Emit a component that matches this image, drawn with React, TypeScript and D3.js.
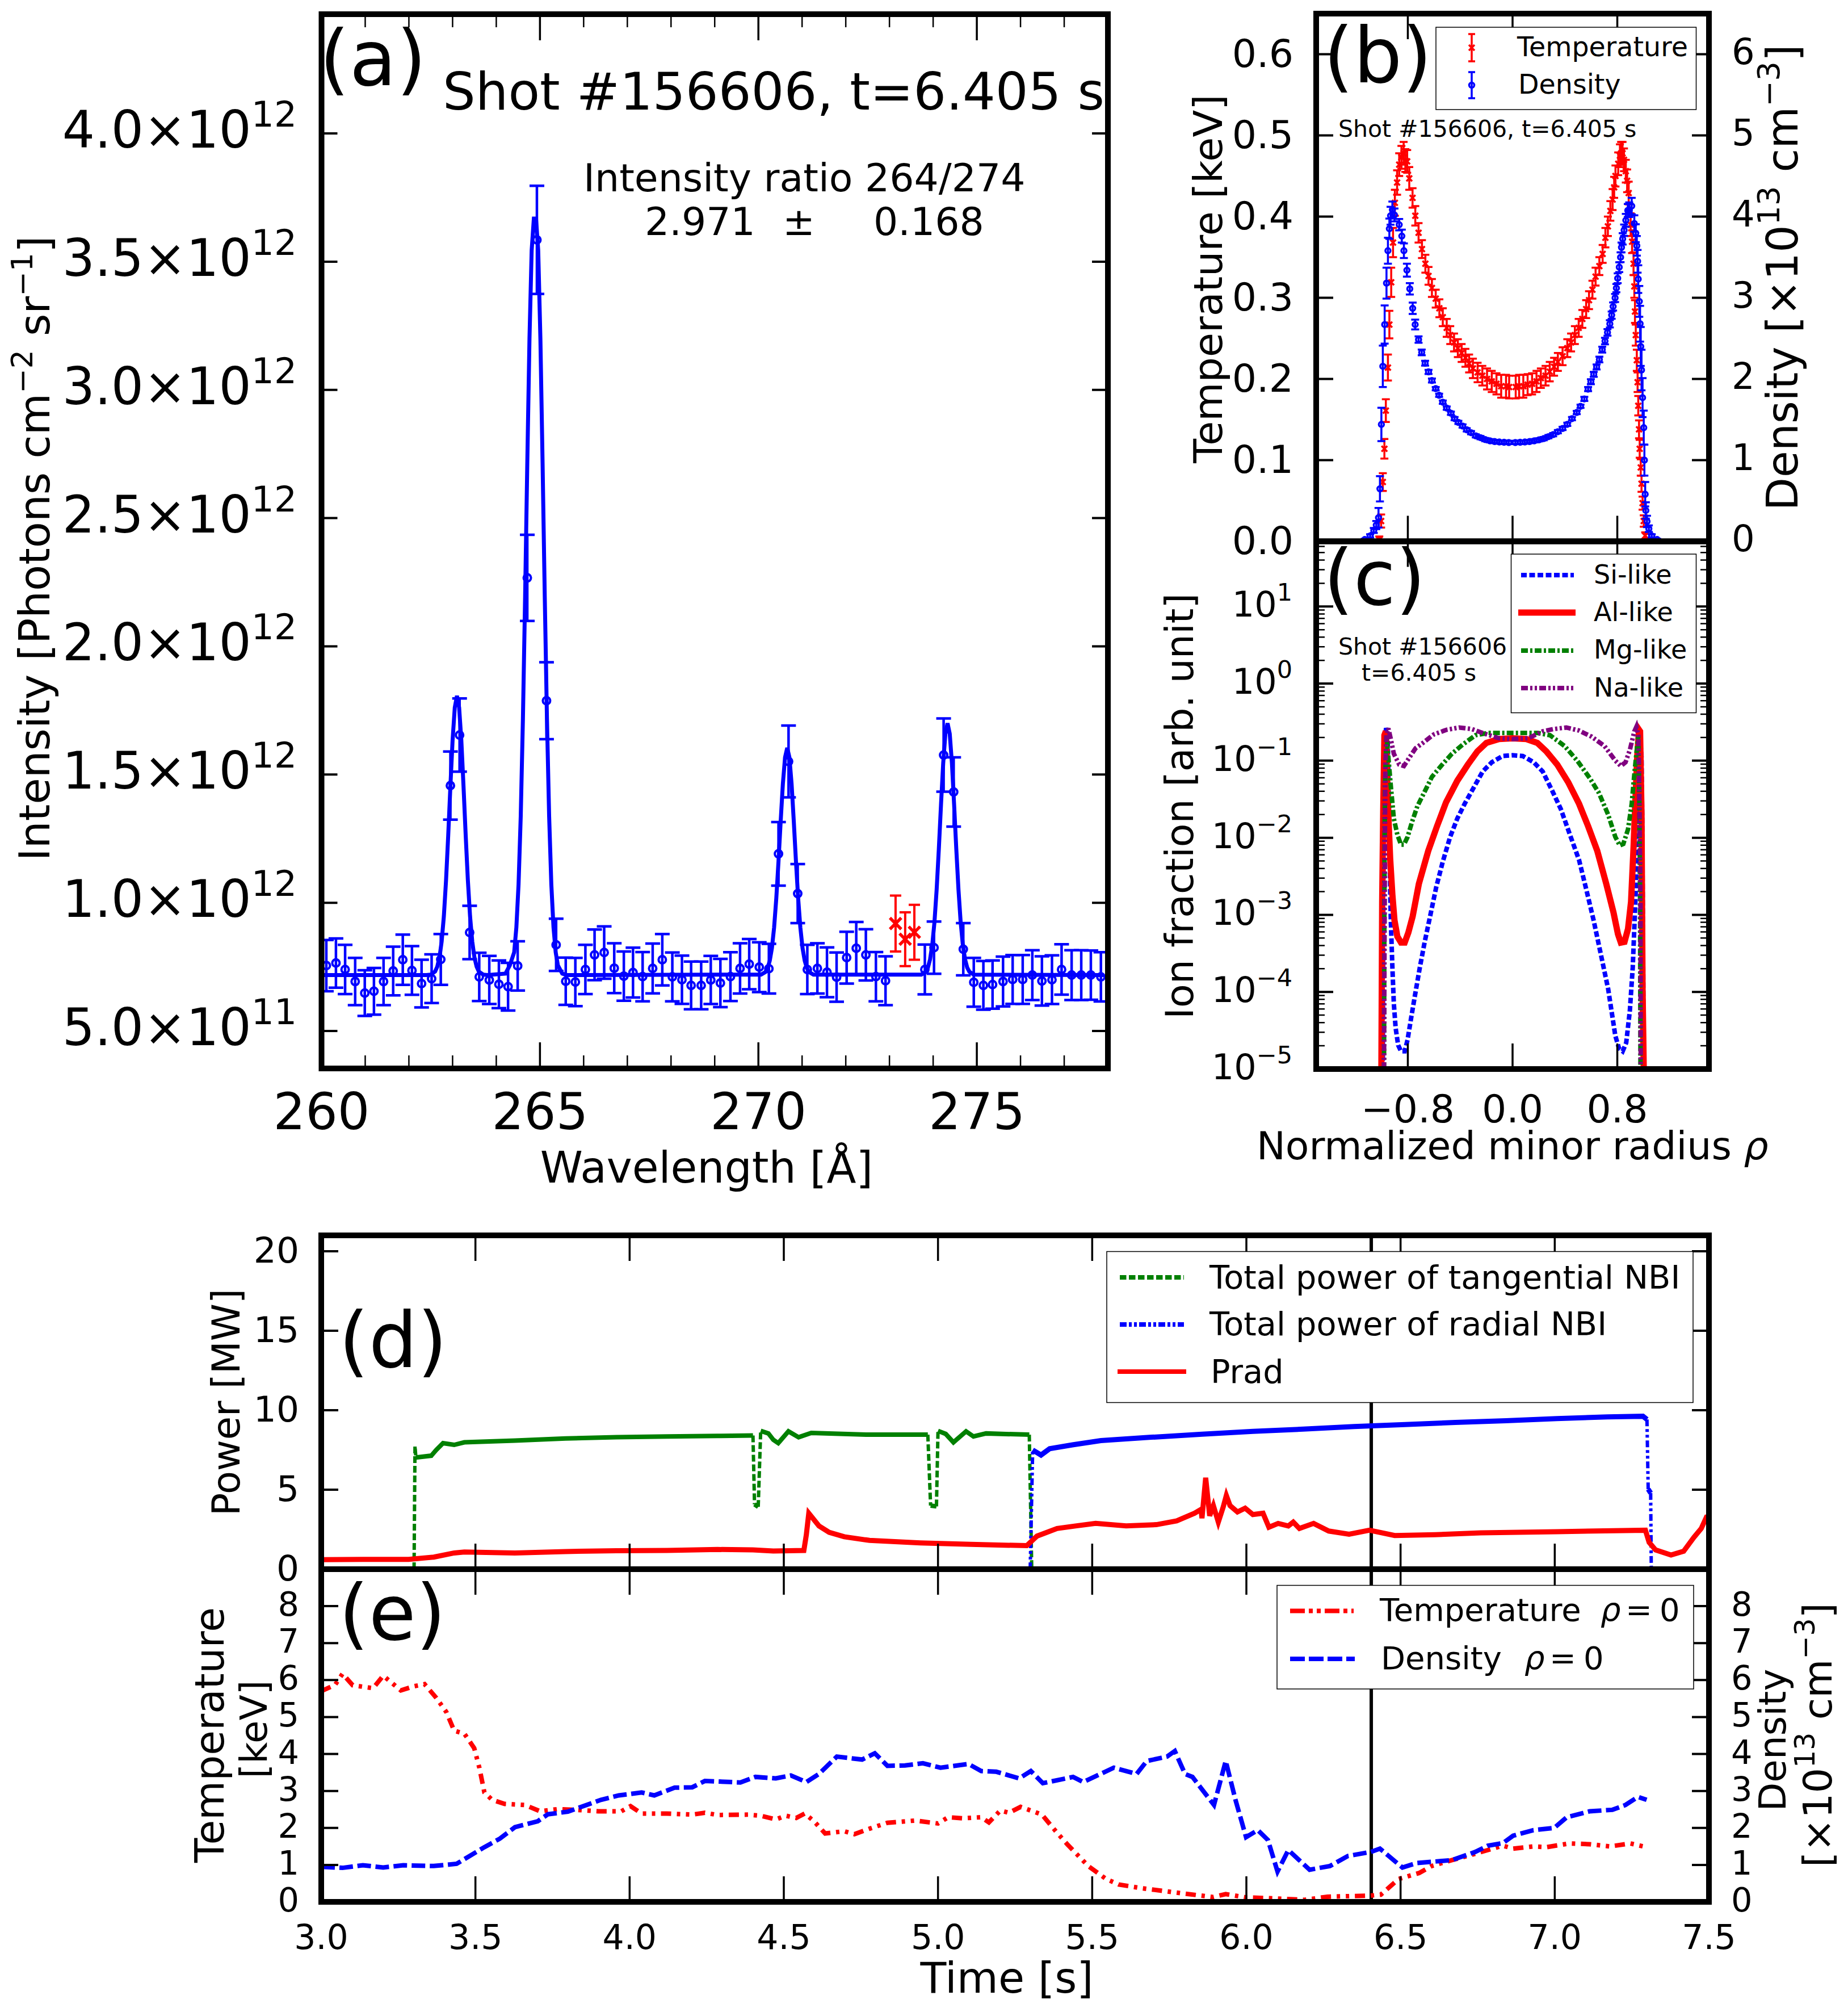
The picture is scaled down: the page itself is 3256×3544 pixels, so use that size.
import * as d3 from "d3";

type Row = number[];

const font = "DejaVu Sans";

// (a) spectrum: wavelength, intensity (1e12), error (1e12)
const spectrum: Row[] = [
  [260.11, 0.755, 0.1], [260.33, 0.765, 0.096], [260.54, 0.74, 0.096], [260.77, 0.693, 0.092], [260.99, 0.648, 0.089],
  [261.2, 0.655, 0.091], [261.42, 0.693, 0.092], [261.64, 0.734, 0.095], [261.86, 0.778, 0.098], [262.07, 0.736, 0.095],
  [262.29, 0.685, 0.093], [262.52, 0.704, 0.095], [262.73, 0.779, 0.099], [262.95, 1.457, 0.133], [263.16, 1.654, 0.143],
  [263.39, 0.884, 0.104], [263.61, 0.711, 0.094], [263.84, 0.699, 0.094], [264.06, 0.682, 0.093], [264.27, 0.673, 0.093],
  [264.49, 0.754, 0.096], [264.71, 2.267, 0.168], [264.93, 3.585, 0.211], [265.15, 1.788, 0.15], [265.37, 0.836, 0.102],
  [265.59, 0.694, 0.092], [265.81, 0.691, 0.094], [266.04, 0.74, 0.096], [266.25, 0.797, 0.099], [266.47, 0.806, 0.102],
  [266.7, 0.745, 0.097], [266.92, 0.714, 0.096], [267.13, 0.728, 0.097], [267.35, 0.712, 0.096], [267.58, 0.744, 0.097],
  [267.8, 0.778, 0.1], [268.03, 0.711, 0.095], [268.25, 0.7, 0.094], [268.46, 0.678, 0.093], [268.69, 0.678, 0.093],
  [268.91, 0.699, 0.094], [269.13, 0.687, 0.094], [269.36, 0.712, 0.095], [269.58, 0.744, 0.098], [269.79, 0.761, 0.098],
  [270.02, 0.749, 0.097], [270.24, 0.743, 0.097], [270.46, 1.191, 0.124], [270.69, 1.551, 0.14], [270.9, 1.036, 0.115],
  [271.12, 0.74, 0.096], [271.35, 0.744, 0.098], [271.57, 0.729, 0.097], [271.79, 0.71, 0.096], [272.02, 0.786, 0.101],
  [272.24, 0.823, 0.102], [272.46, 0.797, 0.1], [272.69, 0.712, 0.096], [272.91, 0.696, 0.095], [273.81, 0.74, 0.097],
  [274.02, 0.825, 0.102], [274.24, 1.576, 0.143], [274.47, 1.432, 0.135], [274.69, 0.819, 0.102], [274.93, 0.69, 0.095],
  [275.15, 0.678, 0.095], [275.36, 0.681, 0.094], [275.6, 0.693, 0.097], [275.82, 0.701, 0.095], [276.05, 0.701, 0.095],
  [276.27, 0.718, 0.097], [276.49, 0.695, 0.096], [276.72, 0.7, 0.095], [276.94, 0.74, 0.098], [277.17, 0.718, 0.097],
  [277.39, 0.718, 0.097], [277.61, 0.718, 0.096], [277.84, 0.711, 0.096],
];
const excluded: Row[] = [
  [273.14, 0.919, 0.109],
  [273.36, 0.858, 0.105],
  [273.57, 0.885, 0.107],
];
const fitWave = [
  260, 262.4, 262.5, 262.6, 262.65, 262.7, 262.75, 262.8, 262.85, 262.9, 262.95, 263.0, 263.05, 263.1,
  263.15, 263.2, 263.25, 263.3, 263.35, 263.4, 263.45, 263.5, 263.55, 263.6, 263.7, 263.8,
  264.21, 264.31, 264.41, 264.46, 264.51, 264.56, 264.61, 264.66, 264.71, 264.76, 264.81, 264.86, 264.91,
  264.96, 265.01, 265.06, 265.11, 265.16, 265.21, 265.26, 265.31, 265.36, 265.41, 265.51, 265.61,
  270.06, 270.16, 270.21, 270.26, 270.31, 270.36, 270.41, 270.46, 270.51, 270.56, 270.61, 270.66,
  270.71, 270.76, 270.81, 270.86, 270.91, 270.96, 271.01, 271.06, 271.11, 271.16, 271.26,
  273.73, 273.83, 273.88, 273.93, 273.98, 274.03, 274.08, 274.13, 274.18, 274.23, 274.28, 274.33,
  274.38, 274.43, 274.48, 274.53, 274.58, 274.63, 274.68, 274.73, 274.78, 274.83, 274.93, 277.9,
];
const fitIntensity = [
  0.718, 0.718, 0.72, 0.732, 0.751, 0.787, 0.849, 0.947, 1.087, 1.263, 1.455, 1.634, 1.761, 1.807,
  1.761, 1.634, 1.455, 1.263, 1.087, 0.947, 0.849, 0.787, 0.751, 0.732, 0.72, 0.718,
  0.724, 0.756, 0.807, 0.904, 1.072, 1.338, 1.718, 2.193, 2.715, 3.199, 3.544, 3.668, 3.668,
  3.544, 3.199, 2.715, 2.193, 1.718, 1.338, 1.072, 0.904, 0.807, 0.756, 0.724, 0.718,
  0.72, 0.73, 0.745, 0.774, 0.824, 0.904, 1.018, 1.161, 1.318, 1.463, 1.567, 1.604,
  1.567, 1.463, 1.318, 1.161, 1.018, 0.904, 0.824, 0.774, 0.745, 0.73, 0.72,
  0.72, 0.731, 0.747, 0.78, 0.836, 0.924, 1.051, 1.209, 1.383, 1.544, 1.659, 1.7,
  1.659, 1.544, 1.383, 1.209, 1.051, 0.924, 0.836, 0.78, 0.747, 0.731, 0.72, 0.718,
];

// (b) profiles: rho, value, error
const densityProfile: Row[] = [
  [-1.129, 0.022, 0.01], [-1.088, 0.067, 0.02], [-1.06, 0.134, 0.03], [-1.041, 0.2, 0.05], [-1.024, 0.29, 0.12],
  [-1.013, 0.647, 0.155], [-1.002, 1.44, 0.205], [-0.991, 2.156, 0.255], [-0.977, 2.67, 0.235], [-0.963, 3.18, 0.19],
  [-0.952, 3.58, 0.16], [-0.941, 3.85, 0.125], [-0.932, 4.01, 0.11], [-0.918, 4.085, 0.1], [-0.902, 4.02, 0.08],
  [-0.866, 3.9, 0.07], [-0.846, 3.76, 0.08], [-0.83, 3.58, 0.09], [-0.807, 3.34, 0.08], [-0.785, 3.11, 0.07],
  [-0.763, 2.87, 0.07], [-0.744, 2.67, 0.06],
  [-0.718, 2.485, 0.04], [-0.694, 2.327, 0.035], [-0.668, 2.194, 0.03], [-0.642, 2.087, 0.025], [-0.616, 1.981, 0.025],
  [-0.587, 1.881, 0.02], [-0.561, 1.799, 0.02], [-0.533, 1.714, 0.02], [-0.503, 1.641, 0.02], [-0.471, 1.578, 0.02],
  [-0.443, 1.511, 0.02], [-0.414, 1.465, 0.02], [-0.382, 1.42, 0.02], [-0.35, 1.374, 0.02], [-0.317, 1.338, 0.02],
  [-0.281, 1.299, 0.02], [-0.245, 1.277, 0.02], [-0.209, 1.253, 0.02], [-0.173, 1.238, 0.02], [-0.137, 1.229, 0.02],
  [-0.101, 1.223, 0.02], [-0.065, 1.22, 0.02], [-0.029, 1.217, 0.02], [0.021, 1.217, 0.02], [0.058, 1.22, 0.02],
  [0.094, 1.223, 0.02], [0.13, 1.229, 0.02], [0.166, 1.238, 0.02], [0.202, 1.25, 0.02], [0.238, 1.265, 0.02],
  [0.274, 1.289, 0.02], [0.31, 1.314, 0.02], [0.346, 1.35, 0.02], [0.382, 1.39, 0.02], [0.418, 1.441, 0.02],
  [0.454, 1.511, 0.02], [0.49, 1.587, 0.02], [0.519, 1.663, 0.02], [0.548, 1.754, 0.025], [0.577, 1.875, 0.025],
  [0.598, 1.966, 0.03], [0.62, 2.057, 0.03], [0.642, 2.148, 0.03], [0.663, 2.239, 0.035], [0.685, 2.361, 0.035],
  [0.706, 2.467, 0.04], [0.725, 2.573, 0.04], [0.743, 2.679, 0.045], [0.757, 2.786, 0.045], [0.768, 2.892, 0.05],
  [0.783, 2.998, 0.05], [0.793, 3.119, 0.05], [0.803, 3.24, 0.06], [0.815, 3.377, 0.06], [0.825, 3.499, 0.06],
  [0.832, 3.62, 0.06], [0.841, 3.726, 0.07], [0.852, 3.832, 0.07], [0.865, 3.954, 0.08], [0.88, 4.075, 0.08],
  [0.891, 4.085, 0.09], [0.91, 4.13, 0.1], [0.93, 3.915, 0.1], [0.941, 3.795, 0.11], [0.949, 3.64, 0.12],
  [0.955, 3.45, 0.14], [0.96, 3.23, 0.17], [0.968, 2.955, 0.19], [0.974, 2.68, 0.22], [0.979, 2.4, 0.24],
  [0.985, 2.11, 0.25], [0.993, 1.77, 0.24], [1.002, 1.4, 0.21], [1.007, 1.0, 0.19], [1.013, 0.58, 0.15],
  [1.018, 0.38, 0.1], [1.027, 0.245, 0.07], [1.041, 0.156, 0.04], [1.063, 0.067, 0.02], [1.104, 0.022, 0.01],
];
const temperatureProfile: Row[] = [
  [-1.018, 0.002, 0.004], [-1.004, 0.025, 0.008], [-0.991, 0.073, 0.011], [-0.979, 0.114, 0.012], [-0.968, 0.161, 0.014],
  [-0.952, 0.214, 0.016], [-0.941, 0.267, 0.017], [-0.927, 0.319, 0.018], [-0.913, 0.368, 0.018], [-0.899, 0.417, 0.016],
  [-0.882, 0.442, 0.015], [-0.866, 0.464, 0.014], [-0.849, 0.473, 0.014], [-0.832, 0.478, 0.014], [-0.819, 0.469, 0.014],
  [-0.805, 0.468, 0.014],
  [-0.789, 0.447, 0.014], [-0.764, 0.423, 0.012], [-0.743, 0.401, 0.012], [-0.718, 0.38, 0.012], [-0.692, 0.36, 0.011],
  [-0.666, 0.342, 0.011], [-0.642, 0.327, 0.011], [-0.616, 0.312, 0.011], [-0.587, 0.299, 0.011], [-0.559, 0.287, 0.011],
  [-0.533, 0.276, 0.011], [-0.503, 0.263, 0.011], [-0.476, 0.254, 0.011], [-0.447, 0.245, 0.011], [-0.418, 0.238, 0.011],
  [-0.389, 0.232, 0.011], [-0.36, 0.226, 0.011], [-0.332, 0.219, 0.011], [-0.303, 0.213, 0.012], [-0.267, 0.208, 0.012],
  [-0.231, 0.204, 0.012], [-0.195, 0.2, 0.013], [-0.159, 0.197, 0.013], [-0.123, 0.194, 0.013], [-0.087, 0.191, 0.014],
  [-0.05, 0.191, 0.014], [-0.026, 0.19, 0.014], [0.024, 0.19, 0.014], [0.05, 0.191, 0.014], [0.082, 0.191, 0.014],
  [0.115, 0.193, 0.013], [0.149, 0.194, 0.013], [0.183, 0.197, 0.013], [0.216, 0.201, 0.012], [0.252, 0.204, 0.012],
  [0.284, 0.209, 0.012], [0.317, 0.215, 0.011], [0.346, 0.221, 0.011], [0.382, 0.228, 0.011], [0.418, 0.238, 0.011],
  [0.447, 0.245, 0.011], [0.476, 0.254, 0.011], [0.505, 0.263, 0.011], [0.533, 0.274, 0.011], [0.562, 0.286, 0.011],
  [0.584, 0.297, 0.011], [0.61, 0.31, 0.011], [0.634, 0.326, 0.011], [0.663, 0.339, 0.011], [0.688, 0.354, 0.011],
  [0.709, 0.374, 0.012], [0.728, 0.388, 0.012], [0.747, 0.407, 0.012], [0.764, 0.421, 0.013], [0.776, 0.436, 0.013],
  [0.786, 0.45, 0.013], [0.807, 0.465, 0.014], [0.82, 0.475, 0.014], [0.829, 0.478, 0.014], [0.84, 0.478, 0.014],
  [0.851, 0.47, 0.014], [0.865, 0.456, 0.014], [0.875, 0.444, 0.014], [0.887, 0.429, 0.014],
  [0.902, 0.39, 0.014], [0.913, 0.369, 0.014], [0.924, 0.342, 0.014], [0.93, 0.314, 0.014], [0.935, 0.283, 0.014],
  [0.941, 0.254, 0.013], [0.949, 0.223, 0.013], [0.955, 0.196, 0.012], [0.96, 0.167, 0.012], [0.966, 0.138, 0.011],
  [0.971, 0.114, 0.011], [0.979, 0.091, 0.01], [0.985, 0.071, 0.01], [0.993, 0.047, 0.008], [1.002, 0.025, 0.007],
  [1.013, 0.007, 0.004], [1.035, 0.001, 0.002],
];

// (c) ion fractions: rho, log10(fraction)
const siLike: Row[] = [
  [-0.991, -5.0], [-0.988, -3.3], [-0.985, -1.89], [-0.982, -1.235], [-0.977, -0.765], [-0.966, -0.577], [-0.955, -0.671],
  [-0.946, -1.42], [-0.938, -2.36], [-0.93, -3.07], [-0.918, -3.68], [-0.907, -4.15], [-0.893, -4.47], [-0.874, -4.69],
  [-0.852, -4.77], [-0.824, -4.77], [-0.802, -4.62], [-0.774, -4.33], [-0.741, -4.0], [-0.708, -3.68], [-0.671, -3.35],
  [-0.63, -3.02], [-0.583, -2.64], [-0.533, -2.31], [-0.477, -1.99], [-0.422, -1.75], [-0.366, -1.56], [-0.297, -1.35],
  [-0.228, -1.14], [-0.158, -1.02], [-0.075, -0.94], [0, -0.93], [0.078, -0.94], [0.161, -1.02], [0.23, -1.14], [0.3, -1.38],
  [0.369, -1.63], [0.438, -1.96], [0.508, -2.29], [0.563, -2.67], [0.619, -3.07], [0.674, -3.51], [0.73, -3.96], [0.785, -4.57],
  [0.813, -4.73], [0.841, -4.77], [0.868, -4.66], [0.896, -4.24], [0.918, -3.68], [0.938, -2.83], [0.952, -2.13], [0.966, -1.42],
  [0.979, -0.81], [0.985, -0.95], [0.991, -1.89], [0.996, -3.3], [1.002, -5.0],
];
const alLike: Row[] = [
  [-1.002, -5.0], [-0.996, -2.83], [-0.988, -1.66], [-0.979, -0.67], [-0.968, -0.62], [-0.96, -1.14], [-0.949, -1.7],
  [-0.935, -2.27], [-0.918, -2.74], [-0.902, -3.07], [-0.88, -3.28], [-0.852, -3.36], [-0.824, -3.36], [-0.796, -3.23],
  [-0.763, -3.02], [-0.716, -2.6], [-0.644, -2.17], [-0.577, -1.85], [-0.508, -1.54], [-0.422, -1.26], [-0.341, -1.05],
  [-0.269, -0.88], [-0.2, -0.77], [-0.103, -0.72], [0, -0.71], [0.105, -0.72], [0.189, -0.77], [0.258, -0.88], [0.341, -1.05],
  [0.425, -1.28], [0.508, -1.56], [0.577, -1.85], [0.647, -2.17], [0.716, -2.6], [0.771, -2.97], [0.805, -3.25], [0.827, -3.36],
  [0.855, -3.35], [0.882, -3.18], [0.905, -2.83], [0.924, -2.13], [0.938, -1.52], [0.952, -0.95], [0.966, -0.6], [0.974, -0.62],
  [0.985, -1.7], [0.993, -3.96], [1.002, -5.0],
];
const mgLike: Row[] = [
  [-0.982, -5.0], [-0.979, -2.83], [-0.977, -1.89], [-0.974, -1.33], [-0.968, -0.95], [-0.963, -0.67], [-0.949, -0.95],
  [-0.93, -1.33], [-0.907, -1.75], [-0.88, -1.96], [-0.852, -2.09], [-0.83, -2.09], [-0.802, -1.99], [-0.769, -1.8],
  [-0.727, -1.59], [-0.671, -1.4], [-0.616, -1.21], [-0.547, -1.07], [-0.463, -0.91], [-0.38, -0.79], [-0.283, -0.67],
  [-0.186, -0.64], [0, -0.64], [0.189, -0.64], [0.286, -0.67], [0.397, -0.81], [0.494, -1.0], [0.591, -1.23], [0.66, -1.42],
  [0.73, -1.7], [0.785, -1.99], [0.819, -2.1], [0.846, -2.08], [0.882, -1.89], [0.91, -1.56], [0.932, -1.14], [0.952, -0.81],
  [0.96, -0.67], [0.968, -1.42], [0.974, -2.83], [0.977, -5.0],
];
const naLike: Row[] = [
  [-0.982, -5.0], [-0.977, -2.83], [-0.974, -1.7], [-0.971, -1.05], [-0.963, -0.67], [-0.949, -0.58], [-0.93, -0.72],
  [-0.907, -0.91], [-0.866, -1.05], [-0.83, -1.07], [-0.796, -0.98], [-0.741, -0.84], [-0.685, -0.77], [-0.602, -0.66],
  [-0.505, -0.6], [-0.408, -0.57], [-0.311, -0.59], [-0.214, -0.65], [-0.103, -0.71], [0, -0.72], [0.119, -0.71], [0.23, -0.62],
  [0.314, -0.59], [0.411, -0.57], [0.508, -0.61], [0.605, -0.69], [0.702, -0.81], [0.785, -1.0], [0.827, -1.07], [0.863, -1.02],
  [0.896, -0.86], [0.93, -0.62], [0.946, -0.56], [0.96, -0.67], [0.966, -1.14], [0.971, -1.89], [0.977, -2.83], [0.979, -5.0],
];

// (d) power traces: time, MW
const tangentialNbi: Row[] = [
  [3.301, 0], [3.304, 7.74], [3.307, 7.03], [3.357, 7.14], [3.373, 7.5], [3.395, 7.93], [3.431, 7.82], [3.464, 7.98],
  [3.628, 8.09], [3.792, 8.22], [3.957, 8.3], [4.121, 8.35], [4.285, 8.38], [4.4, 8.41], [4.405, 4.08], [4.417, 3.92],
  [4.425, 8.7], [4.45, 8.54], [4.466, 8.14], [4.482, 7.93], [4.515, 8.67], [4.548, 8.3], [4.589, 8.57], [4.778, 8.46],
  [4.967, 8.46], [4.976, 4.0], [4.995, 3.95], [5.0, 8.7], [5.025, 8.51], [5.05, 7.98], [5.091, 8.67], [5.115, 8.35],
  [5.156, 8.54], [5.296, 8.46], [5.304, 0],
];
const radialNbi: Row[] = [
  [5.299, 0], [5.307, 7.5], [5.334, 7.18], [5.362, 7.58], [5.436, 7.82], [5.528, 8.09], [5.692, 8.3], [5.856, 8.49],
  [6.021, 8.67], [6.185, 8.81], [6.349, 8.97], [6.514, 9.1], [6.678, 9.23], [6.842, 9.34], [7.007, 9.47], [7.171, 9.58],
  [7.286, 9.62], [7.299, 9.42], [7.303, 5.03], [7.311, 4.79], [7.313, 0],
];
const prad: Row[] = [
  [3.0, 0.6], [3.135, 0.62], [3.283, 0.62], [3.365, 0.76], [3.431, 1.02], [3.464, 1.08], [3.628, 1.02], [3.792, 1.11],
  [3.957, 1.16], [4.121, 1.18], [4.285, 1.24], [4.4, 1.21], [4.466, 1.14], [4.565, 1.18], [4.573, 2.16], [4.581, 3.52],
  [4.614, 2.72], [4.647, 2.32], [4.696, 2.04], [4.778, 1.81], [4.943, 1.65], [5.107, 1.56], [5.288, 1.48], [5.321, 2.08],
  [5.386, 2.56], [5.446, 2.72], [5.511, 2.88], [5.61, 2.72], [5.708, 2.8], [5.774, 3.04], [5.832, 3.52], [5.853, 3.76],
  [5.856, 3.2], [5.868, 5.75], [5.881, 3.36], [5.893, 4.0], [5.909, 2.96], [5.925, 3.92], [5.935, 4.64], [5.947, 4.0],
  [5.971, 3.6], [5.996, 3.84], [6.021, 3.44], [6.054, 3.52], [6.073, 2.64], [6.103, 2.88], [6.136, 2.72], [6.152, 2.96],
  [6.172, 2.56], [6.218, 2.88], [6.267, 2.4], [6.333, 2.2], [6.399, 2.45], [6.481, 2.12], [6.612, 2.17], [6.76, 2.29],
  [7.007, 2.36], [7.294, 2.45], [7.306, 1.69], [7.327, 1.21], [7.377, 0.89], [7.418, 1.13], [7.451, 2.0], [7.475, 2.56],
  [7.492, 3.28], [7.5, 3.3],
];

// (e) central values: time, value
const centralTemperature: Row[] = [
  [3.0, 5.7], [3.045, 5.87], [3.069, 6.17], [3.102, 5.86], [3.168, 5.78], [3.201, 6.12], [3.258, 5.72], [3.299, 5.83],
  [3.335, 5.89], [3.373, 5.52], [3.406, 5.13], [3.431, 4.63], [3.464, 4.55], [3.496, 4.16], [3.513, 3.62], [3.529, 2.96],
  [3.554, 2.76], [3.595, 2.65], [3.661, 2.62], [3.71, 2.45], [3.768, 2.51], [3.825, 2.49], [3.899, 2.45], [3.973, 2.45],
  [4.003, 2.59], [4.039, 2.39], [4.121, 2.39], [4.203, 2.36], [4.244, 2.41], [4.285, 2.35], [4.384, 2.36], [4.425, 2.33],
  [4.474, 2.23], [4.507, 2.33], [4.54, 2.27], [4.568, 2.39], [4.598, 2.18], [4.634, 1.85], [4.696, 1.91], [4.729, 1.83],
  [4.778, 1.98], [4.836, 2.14], [4.926, 2.2], [5.0, 2.12], [5.033, 2.29], [5.082, 2.26], [5.14, 2.29], [5.165, 2.15],
  [5.202, 2.47], [5.23, 2.41], [5.268, 2.57], [5.337, 2.36], [5.386, 1.87], [5.419, 1.56], [5.487, 0.97], [5.545, 0.62],
  [5.586, 0.47], [5.66, 0.37], [5.793, 0.23], [5.892, 0.13], [5.933, 0.21], [5.999, 0.12], [6.073, 0.1], [6.189, 0.055],
  [6.263, 0.14], [6.403, 0.17], [6.436, 0.195], [6.494, 0.62], [6.56, 0.78], [6.601, 0.97], [6.667, 1.13], [6.733, 1.28],
  [6.832, 1.52], [6.865, 1.44], [6.931, 1.5], [6.973, 1.48], [7.047, 1.58], [7.113, 1.56], [7.179, 1.5], [7.245, 1.58], [7.298, 1.48],
];
const centralDensity: Row[] = [
  [3.0, 0.95], [3.069, 0.92], [3.135, 0.99], [3.201, 0.93], [3.266, 0.99], [3.365, 0.97], [3.439, 1.03], [3.529, 1.48],
  [3.579, 1.71], [3.628, 2.02], [3.702, 2.18], [3.735, 2.37], [3.8, 2.44], [3.907, 2.76], [3.965, 2.88], [4.039, 2.96],
  [4.08, 2.88], [4.146, 3.09], [4.203, 3.1], [4.244, 3.27], [4.359, 3.23], [4.408, 3.38], [4.474, 3.34], [4.523, 3.42],
  [4.573, 3.24], [4.614, 3.46], [4.672, 3.93], [4.754, 3.85], [4.795, 4.02], [4.836, 3.68], [4.893, 3.69], [4.951, 3.75],
  [5.008, 3.63], [5.099, 3.73], [5.14, 3.54], [5.189, 3.52], [5.263, 3.34], [5.301, 3.54], [5.34, 3.21], [5.438, 3.38],
  [5.471, 3.24], [5.57, 3.63], [5.644, 3.46], [5.677, 3.81], [5.743, 3.93], [5.768, 4.08], [5.801, 3.46], [5.825, 3.38],
  [5.895, 2.62], [5.933, 3.81], [5.966, 2.72], [5.999, 1.75], [6.037, 1.94], [6.07, 1.67], [6.101, 0.82], [6.136, 1.4],
  [6.205, 0.87], [6.271, 0.97], [6.329, 1.24], [6.403, 1.35], [6.433, 1.44], [6.506, 0.93], [6.552, 1.05], [6.667, 1.13],
  [6.742, 1.35], [6.783, 1.52], [6.832, 1.59], [6.865, 1.79], [6.931, 1.94], [6.998, 2.0], [7.039, 2.29], [7.113, 2.45],
  [7.187, 2.49], [7.229, 2.62], [7.27, 2.84], [7.298, 2.76],
];

const wavelengthMajor = [260, 265, 270, 275];
const wavelengthMinor = [261, 262, 263, 264, 266, 267, 268, 269, 271, 272, 273, 274, 276, 277];
const intensityTicks = [0.5, 1, 1.5, 2, 2.5, 3, 3.5, 4];
const rhoTicks = [-0.8, 0, 0.8];
const tempTicks = [0, 0.1, 0.2, 0.3, 0.4, 0.5, 0.6];
const densTicks = [0, 1, 2, 3, 4, 5, 6];
const fractionDecades = [1, 0, -1, -2, -3, -4, -5];
const timeTicks = [3, 3.5, 4, 4.5, 5, 5.5, 6, 6.5, 7, 7.5];
const powerTicks = [0, 5, 10, 15, 20];
const centralTicks = [0, 1, 2, 3, 4, 5, 6, 7, 8];
const markTime = 6.405;

const A = { l: 566.5, r: 1952, t: 25, b: 1882 };
const B = { l: 2319, r: 3011, t: 24, b: 953.5 };
const C = { l: 2319, r: 3011, t: 953.5, b: 1883 };
const D = { l: 566, r: 3011, t: 2176, b: 2764 };
const E = { l: 566, r: 3011, t: 2764, b: 3350 };

const xA = d3.scaleLinear([260, 278], [A.l, A.r]);
const yA = d3.scaleLinear([0.354, 4.465], [A.b, A.t]);
const xB = d3.scaleLinear([-1.5, 1.5], [B.l, B.r]);
const yT = d3.scaleLinear([0, 0.65], [B.b, B.t]);
const yN = d3.scaleLinear([0, 6.5], [B.b, B.t]);
const yC = d3.scaleLog([1e-5, 70], [C.b, C.t]);
const xT = d3.scaleLinear([3, 7.5], [D.l, D.r]);
const yP = d3.scaleLinear([0, 21], [D.b, D.t]);
const yE = d3.scaleLinear([0, 9], [E.b, E.t]);

function path(rows: Row[], x: (v: number) => number, y: (v: number) => number) {
  return (
    d3
      .line<Row>()
      .x((r) => x(r[0]))
      .y((r) => y(r[1]))(rows) ?? ""
  );
}

// plateau of the noisy NBI traces reads as solid, only the steep jumps show the dashes
function splitSteep(rows: Row[]) {
  const parts: { rows: Row[]; steep: boolean }[] = [];
  for (let i = 1; i < rows.length; i++) {
    const dx = Math.abs(xT(rows[i][0]) - xT(rows[i - 1][0]));
    const dy = Math.abs(yP(rows[i][1]) - yP(rows[i - 1][1]));
    const steep = dy > 8 * dx;
    const last = parts[parts.length - 1];
    if (last && last.steep === steep) last.rows.push(rows[i]);
    else parts.push({ rows: [rows[i - 1], rows[i]], steep });
  }
  return parts;
}

function Frame({
  box,
  xMajor,
  xMinor = [],
  x,
  yTicks,
  yMinor = [],
  xLen = 45,
  xMinorLen = 23,
  yLen = 30,
  yMinorLen = 15,
}: {
  box: { l: number; r: number; t: number; b: number };
  xMajor: number[];
  xMinor?: number[];
  x: (v: number) => number;
  yTicks: number[];
  yMinor?: number[];
  xLen?: number;
  xMinorLen?: number;
  yLen?: number;
  yMinorLen?: number;
}) {
  return (
    <g stroke="#000" fill="none">
      {xMajor.map((v) => (
        <path key={v} strokeWidth={3.5} d={`M${x(v)},${box.t}v${xLen}M${x(v)},${box.b}v${-xLen}`} />
      ))}
      {xMinor.map((v) => (
        <path key={v} strokeWidth={2.5} d={`M${x(v)},${box.t}v${xMinorLen}M${x(v)},${box.b}v${-xMinorLen}`} />
      ))}
      {yTicks.map((p) => (
        <path key={p} strokeWidth={4} d={`M${box.l},${p}h${yLen}M${box.r},${p}h${-yLen}`} />
      ))}
      {yMinor.map((p) => (
        <path key={p} strokeWidth={2.5} d={`M${box.l},${p}h${yMinorLen}M${box.r},${p}h${-yMinorLen}`} />
      ))}
      <rect x={box.l} y={box.t} width={box.r - box.l} height={box.b - box.t} strokeWidth={10} />
    </g>
  );
}

function ErrorBars({
  rows,
  x,
  y,
  color,
  cap,
  width,
}: {
  rows: Row[];
  x: (v: number) => number;
  y: (v: number) => number;
  color: string;
  cap: number;
  width: number;
}) {
  return (
    <g stroke={color} strokeWidth={width} fill="none">
      {rows.map((r) => {
        const px = x(r[0]);
        const hi = y(r[1] + r[2]);
        const lo = y(r[1] - r[2]);
        return (
          <path key={r[0]} d={`M${px},${hi}V${lo}M${px - cap},${hi}h${2 * cap}M${px - cap},${lo}h${2 * cap}`} />
        );
      })}
    </g>
  );
}

function Cross({ cx, cy, r, color, width }: { cx: number; cy: number; r: number; color: string; width: number }) {
  return (
    <path
      d={`M${cx - r},${cy - r}L${cx + r},${cy + r}M${cx - r},${cy + r}L${cx + r},${cy - r}`}
      stroke={color}
      strokeWidth={width}
      fill="none"
    />
  );
}

function Sup({ base, sup, size, rise, supSize }: { base: string; sup: string; size: number; rise: number; supSize: number }) {
  return (
    <>
      <tspan fontSize={size}>{base}</tspan>
      <tspan fontSize={supSize} dy={-rise}>
        {sup}
      </tspan>
    </>
  );
}

function LegendBox({ x, y, w, h }: { x: number; y: number; w: number; h: number }) {
  return <rect x={x} y={y} width={w} height={h} fill="#fff" stroke="#000" strokeWidth={1.5} />;
}

export default function App() {
  return (
    <svg
      width={3256}
      height={3544}
      viewBox="0 0 3256 3544"
      style={{ position: "absolute", left: 0, top: 0, background: "#fff" }}
      fontFamily={font}
      fill="#000"
    >
      <defs>
        <clipPath id="clipC">
          <rect x={C.l} y={C.t} width={C.r - C.l} height={C.b - C.t} />
        </clipPath>
        <clipPath id="clipD">
          <rect x={D.l} y={D.t} width={D.r - D.l} height={D.b - D.t} />
        </clipPath>
        <clipPath id="clipE">
          <rect x={E.l} y={E.t} width={E.r - E.l} height={E.b - E.t} />
        </clipPath>
      </defs>

      {/* panel (a) */}
      <ErrorBars rows={spectrum} x={xA} y={yA} color="#0000ff" cap={13} width={4.5} />
      <path d={path(fitWave.map((w, i) => [w, fitIntensity[i]]), xA, yA)} fill="none" stroke="#0000ff" strokeWidth={7} />
      {spectrum.map((r) => (
        <circle key={r[0]} cx={xA(r[0])} cy={yA(r[1])} r={6.5} fill="none" stroke="#0000ff" strokeWidth={4} />
      ))}
      <ErrorBars rows={excluded} x={xA} y={yA} color="#ff0000" cap={10} width={4} />
      {excluded.map((r) => (
        <Cross key={r[0]} cx={xA(r[0])} cy={yA(r[1])} r={10} color="#ff0000" width={5.5} />
      ))}
      <Frame
        box={A}
        xMajor={wavelengthMajor}
        xMinor={wavelengthMinor}
        x={xA}
        xLen={46}
        yTicks={intensityTicks.map((v) => yA(v))}
        yLen={28}
      />
      {intensityTicks.map((v) => (
        <text key={v} x={523} y={yA(v) + 25} textAnchor="end">
          {v === 0.5 ? (
            <Sup base={"5.0\u00d710"} sup="11" size={90} supSize={63} rise={37} />
          ) : (
            <Sup base={`${v.toFixed(1)}\u00d710`} sup="12" size={90} supSize={63} rise={37} />
          )}
        </text>
      ))}
      {wavelengthMajor.map((v) => (
        <text key={v} x={xA(v)} y={1989} textAnchor="middle" fontSize={89}>
          {v}
        </text>
      ))}
      <text x={1245} y={2083} textAnchor="middle" fontSize={76}>
        {"Wavelength [\u00c5]"}
      </text>
      <text transform="translate(87,966) rotate(-90)" textAnchor="middle" fontSize={75.5}>
        <tspan>Intensity [Photons cm</tspan>
        <tspan fontSize={52} dy={-30}>{"\u22122"}</tspan>
        <tspan dy={30}> sr</tspan>
        <tspan fontSize={52} dy={-30}>{"\u22121"}</tspan>
        <tspan dy={30}>]</tspan>
      </text>
      <text x={563} y={150} fontSize={135}>(a)</text>
      <text x={780} y={193} fontSize={91}>Shot #156606, t=6.405 s</text>
      <text x={1028} y={337} fontSize={68}>Intensity ratio 264/274</text>
      <text y={414} fontSize={68}>
        <tspan x={1136}>2.971</tspan>
        <tspan x={1379}>{"\u00b1"}</tspan>
        <tspan x={1539}>0.168</tspan>
      </text>

      {/* panel (b) */}
      <ErrorBars rows={temperatureProfile} x={xB} y={yT} color="#ff0000" cap={7} width={3.5} />
      {temperatureProfile.map((r) => (
        <Cross key={r[0]} cx={xB(r[0])} cy={yT(r[1])} r={5} color="#ff0000" width={3.5} />
      ))}
      <ErrorBars rows={densityProfile} x={xB} y={yN} color="#0000ff" cap={7} width={3.5} />
      {densityProfile.map((r) => (
        <circle key={r[0]} cx={xB(r[0])} cy={yN(r[1])} r={4.5} fill="none" stroke="#0000ff" strokeWidth={3.5} />
      ))}
      <Frame box={B} xMajor={rhoTicks} x={xB} yTicks={densTicks.map((v) => yN(v))} />
      <LegendBox x={2530} y={48} w={458.5} h={145} />
      <path d="M2593,60V108M2587,60h12M2587,108h12" stroke="#ff0000" strokeWidth={3.5} fill="none" />
      <Cross cx={2593} cy={84} r={5} color="#ff0000" width={3.5} />
      <path d="M2593,127V173M2587,127h12M2587,173h12" stroke="#0000ff" strokeWidth={3.5} fill="none" />
      <circle cx={2593} cy={150} r={4.5} fill="none" stroke="#0000ff" strokeWidth={3.5} />
      <text x={2673} y={99} fontSize={47.5}>Temperature</text>
      <text x={2675} y={164.5} fontSize={47.5}>Density</text>
      <text x={2358} y={241} fontSize={41}>Shot #156606, t=6.405 s</text>
      <text x={2332} y={145} fontSize={135}>(b)</text>
      {tempTicks.map((v) => (
        <text key={v} x={2279} y={yT(v) + 22} textAnchor="end" fontSize={68}>
          {v.toFixed(1)}
        </text>
      ))}
      {densTicks.map((v) => (
        <text key={v} x={3051} y={yN(v) + 17} fontSize={64}>
          {v}
        </text>
      ))}
      <text transform="translate(2153,491) rotate(-90)" textAnchor="middle" fontSize={70}>
        Temperature [keV]
      </text>
      <text transform="translate(3167,489) rotate(-90)" textAnchor="middle" fontSize={76}>
        <tspan>{"Density [\u00d710"}</tspan>
        <tspan fontSize={54} dy={-32}>13</tspan>
        <tspan dy={32}> cm</tspan>
        <tspan fontSize={54} dy={-32}>{"\u22123"}</tspan>
        <tspan dy={32}>]</tspan>
      </text>

      {/* panel (c) */}
      <g clipPath="url(#clipC)" fill="none">
        <path d={path(siLike, xB, (v) => yC(10 ** v))} stroke="#0000ff" strokeWidth={8} strokeDasharray="10,4.5" />
        <path d={path(alLike, xB, (v) => yC(10 ** v))} stroke="#ff0000" strokeWidth={11} />
        <path d={path(mgLike, xB, (v) => yC(10 ** v))} stroke="#008000" strokeWidth={8} strokeDasharray="12,4,4,4" />
        <path d={path(naLike, xB, (v) => yC(10 ** v))} stroke="#800080" strokeWidth={8} strokeDasharray="12,4,4,4,4,4" />
      </g>
      <Frame
        box={C}
        xMajor={rhoTicks}
        x={xB}
        yTicks={fractionDecades.map((v) => yC(10 ** v))}
        yMinor={yC
          .ticks()
          .filter((v) => Math.abs(Math.log10(v) - Math.round(Math.log10(v))) > 1e-6)
          .map((v) => yC(v))}
      />
      <LegendBox x={2662.5} y={976} w={326} h={279.5} />
      <path d="M2680,1013H2773" stroke="#0000ff" strokeWidth={8} strokeDasharray="10,4.5" />
      <path d="M2675,1079H2776" stroke="#ff0000" strokeWidth={11} />
      <path d="M2680,1146H2773" stroke="#008000" strokeWidth={8} strokeDasharray="12,4,4,4" />
      <path d="M2680,1212H2773" stroke="#800080" strokeWidth={8} strokeDasharray="12,4,4,4,4,4" />
      <text x={2808} y={1028} fontSize={46}>Si-like</text>
      <text x={2808} y={1093.5} fontSize={46}>Al-like</text>
      <text x={2808} y={1160} fontSize={46}>Mg-like</text>
      <text x={2808} y={1227} fontSize={46}>Na-like</text>
      <text x={2358} y={1153} fontSize={41}>Shot #156606</text>
      <text x={2399} y={1199} fontSize={41}>t=6.405 s</text>
      <text x={2332} y={1065} fontSize={135}>(c)</text>
      {fractionDecades.map((v) => (
        <text key={v} x={2277} y={yC(10 ** v) + 18} textAnchor="end">
          <Sup base="10" sup={String(v).replace("-", "\u2212")} size={62} supSize={43} rise={28} />
        </text>
      ))}
      {rhoTicks.map((v) => (
        <text key={v} x={xB(v)} y={1977} textAnchor="middle" fontSize={68}>
          {v < 0 ? `\u2212${(-v).toFixed(1)}` : v.toFixed(1)}
        </text>
      ))}
      <text x={2214} y={2042} fontSize={68}>
        Normalized minor radius <tspan fontStyle="italic">{"\u03c1"}</tspan>
      </text>
      <text transform="translate(2102,1420) rotate(-90)" textAnchor="middle" fontSize={68}>
        Ion fraction [arb. unit]
      </text>

      {/* panel (d) */}
      <line x1={xT(markTime)} x2={xT(markTime)} y1={D.t} y2={E.b} stroke="#000" strokeWidth={6} />
      <g clipPath="url(#clipD)" fill="none">
        {splitSteep(tangentialNbi).map((p, i) => (
          <path
            key={i}
            d={path(p.rows, xT, yP)}
            stroke="#008000"
            strokeWidth={p.steep ? 6 : 8}
            strokeDasharray={p.steep ? "12,5" : undefined}
          />
        ))}
        {splitSteep(radialNbi).map((p, i) => (
          <path
            key={i}
            d={path(p.rows, xT, yP)}
            stroke="#0000ff"
            strokeWidth={p.steep ? 6 : 9}
            strokeDasharray={p.steep ? "12,5,5,5,5,5" : undefined}
          />
        ))}
        <path d={path(prad, xT, yP)} stroke="#ff0000" strokeWidth={9} />
      </g>
      <Frame box={D} xMajor={timeTicks} x={xT} yTicks={powerTicks.map((v) => yP(v))} />
      <LegendBox x={1950} y={2204.5} w={1033} h={266} />
      <path d="M1973,2250H2086" stroke="#008000" strokeWidth={8} strokeDasharray="11.5,4.5" />
      <path d="M1973,2333H2086" stroke="#0000ff" strokeWidth={8} strokeDasharray="12,4,5,4,5,4" />
      <path d="M1969,2416H2090" stroke="#ff0000" strokeWidth={8} />
      <text x={2131} y={2270} fontSize={57.3}>Total power of tangential NBI</text>
      <text x={2131} y={2352} fontSize={57.3}>Total power of radial NBI</text>
      <text x={2133} y={2436} fontSize={57.3}>Prad</text>
      <text x={597} y={2408} fontSize={135}>(d)</text>
      {powerTicks.map((v) => (
        <text key={v} x={527} y={yP(v) + 20} textAnchor="end" fontSize={63}>
          {v}
        </text>
      ))}
      <text transform="translate(422,2470) rotate(-90)" textAnchor="middle" fontSize={67}>
        Power [MW]
      </text>

      {/* panel (e) */}
      <g clipPath="url(#clipE)" fill="none">
        <path d={path(centralTemperature, xT, yE)} stroke="#ff0000" strokeWidth={8} strokeDasharray="18,10,6,10,6,10" />
        <path d={path(centralDensity, xT, yE)} stroke="#0000ff" strokeWidth={8} strokeDasharray="24,8" />
      </g>
      <Frame box={E} xMajor={timeTicks} x={xT} yTicks={centralTicks.map((v) => yE(v))} />
      <LegendBox x={2250} y={2792.5} w={734} h={182.5} />
      <path d="M2273,2837.5H2385" stroke="#ff0000" strokeWidth={8} strokeDasharray="26,7,7,7,7,7" />
      <path d="M2273,2922H2387" stroke="#0000ff" strokeWidth={8} strokeDasharray="26,7" />
      <text y={2855} fontSize={56}>
        <tspan x={2431}>Temperature</tspan>
        <tspan x={2820} fontStyle="italic">{"\u03c1"}</tspan>
        <tspan x={2864}>=</tspan>
        <tspan x={2924}>0</tspan>
      </text>
      <text y={2940} fontSize={56}>
        <tspan x={2433}>Density</tspan>
        <tspan x={2686} fontStyle="italic">{"\u03c1"}</tspan>
        <tspan x={2730}>=</tspan>
        <tspan x={2790}>0</tspan>
      </text>
      <text x={597} y={2888} fontSize={135}>(e)</text>
      {centralTicks.map((v) => (
        <text key={v} x={527} y={yE(v) + 17} textAnchor="end" fontSize={59}>
          {v}
        </text>
      ))}
      {centralTicks.map((v) => (
        <text key={v} x={3050} y={yE(v) + 17} fontSize={59}>
          {v}
        </text>
      ))}
      {timeTicks.map((v) => (
        <text key={v} x={xT(v)} y={3433} textAnchor="middle" fontSize={60}>
          {v.toFixed(1)}
        </text>
      ))}
      <text x={1774} y={3510} textAnchor="middle" fontSize={75}>
        Time [s]
      </text>
      <text transform="translate(394,3056) rotate(-90)" textAnchor="middle" fontSize={71}>
        Temperature
      </text>
      <text transform="translate(470,3046) rotate(-90)" textAnchor="middle" fontSize={66}>
        [keV]
      </text>
      <text transform="translate(3146,3065) rotate(-90)" textAnchor="middle" fontSize={66}>
        Density
      </text>
      <text transform="translate(3227,3056) rotate(-90)" textAnchor="middle" fontSize={70}>
        <tspan>{"[\u00d710"}</tspan>
        <tspan fontSize={49} dy={-30}>13</tspan>
        <tspan dy={30}> cm</tspan>
        <tspan fontSize={49} dy={-30}>{"\u22123"}</tspan>
        <tspan dy={30}>]</tspan>
      </text>
    </svg>
  );
}
